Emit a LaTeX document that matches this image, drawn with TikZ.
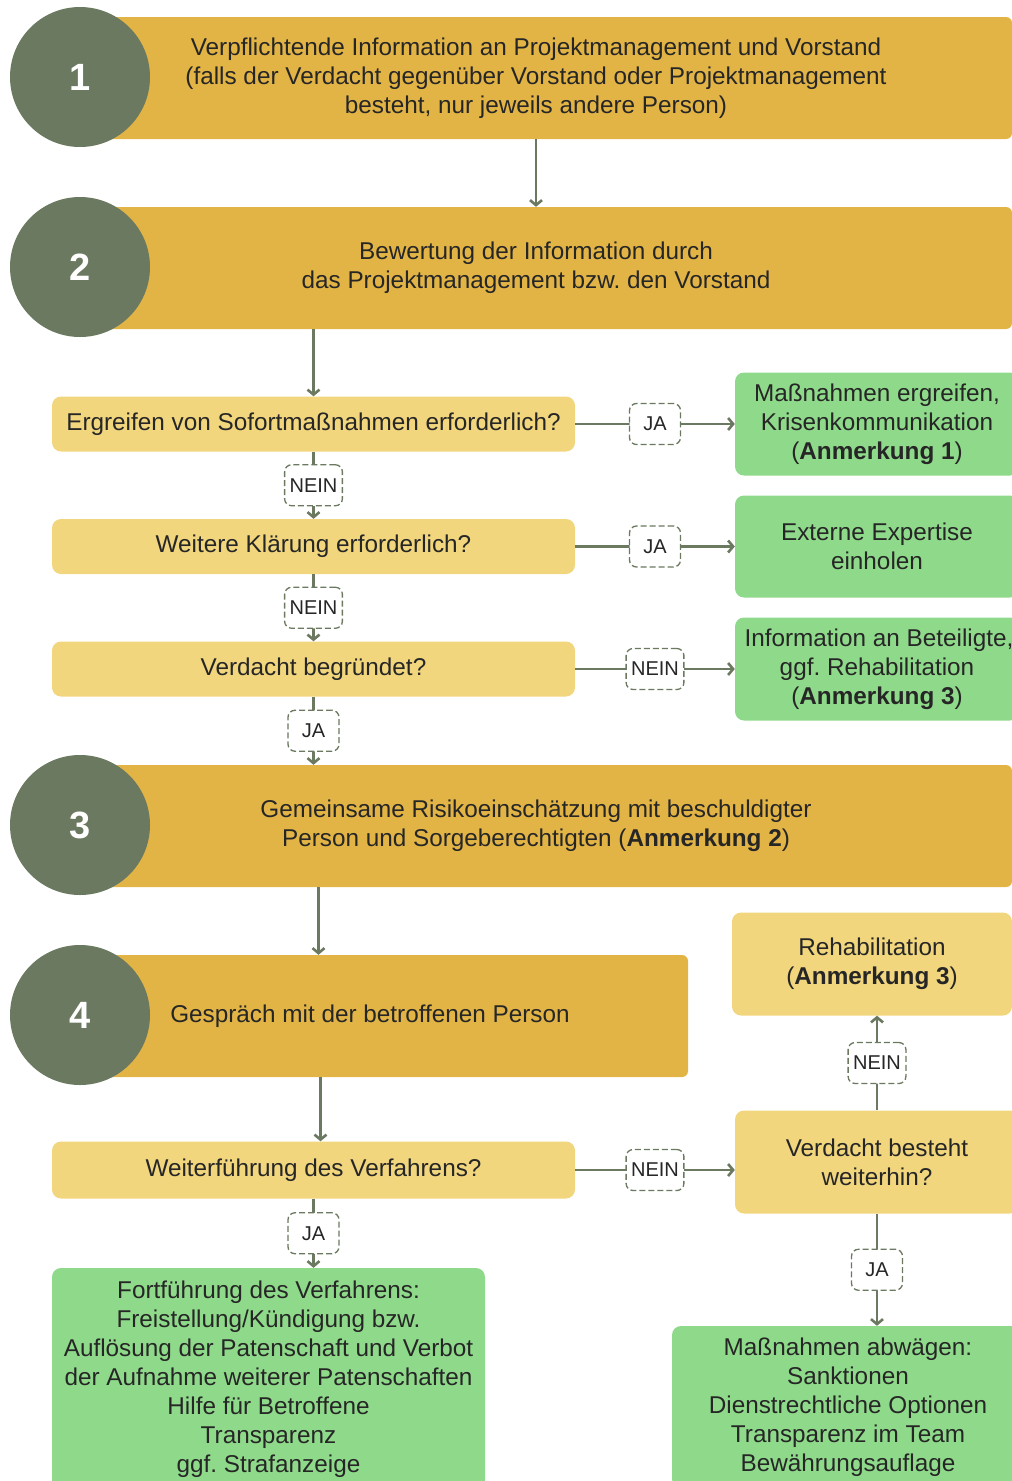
\documentclass[tikz,border=0pt]{standalone}
\usepackage{fontspec}
\setmainfont{Liberation Sans}
\usetikzlibrary{arrows.meta,positioning}
\definecolor{moss}{RGB}{106,121,95}
\definecolor{mustard}{RGB}{226,180,70}
\definecolor{sand}{RGB}{241,214,126}
\definecolor{mint}{RGB}{143,218,138}
\definecolor{ink}{RGB}{38,38,38}
\frenchspacing
\newcommand{\fsmain}{\fontsize{24.3}{29}\selectfont}
\tikzset{
  >={Straight Barb[length=5pt,width=12pt]},
  phase/.style={fill=mustard,rounded corners=6pt,minimum height=122pt,
    minimum width=#1,align=center,font=\fsmain,text=ink,inner sep=0pt},
  phase/.default=952pt,
  num/.style={circle,fill=moss,minimum size=140pt,inner sep=0pt,text=white,
    font=\bfseries\fontsize{38}{40}\selectfont},
  ask/.style={fill=#1,rounded corners=9pt,minimum width=523pt,minimum height=55pt,
    align=center,font=\fsmain,text=ink,inner sep=0pt},
  ask/.default=sand,
  act/.style={fill=mint,rounded corners=9pt,minimum width=284pt,minimum height=103pt,
    align=center,font=\fsmain,text=ink,inner sep=0pt},
  lbl/.style={draw=moss,fill=white,line width=1.3pt,dash pattern=on 6pt off 3pt,
    rounded corners=7pt,minimum height=41pt,minimum width=51pt,inner xsep=5pt,
    font=\fontsize{20}{22}\selectfont,text=ink},
  flow/.style={->,line width=2.6pt,draw=moss},
}

\begin{document}
\begin{tikzpicture}[x=1pt,y=-1pt]
  \useasboundingbox (0,0) rectangle (1012,1481);
  \clip (0,0) rectangle (1012,1481);
  % phase bars
  \node[phase] (bar1) at (536,78) {Verpflichtende Information an Projektmanagement und Vorstand\\
    (falls der Verdacht gegenüber Vorstand oder Projektmanagement\\ besteht, nur jeweils andere Person)};
  \node[phase] (bar2) at (536,268) {Bewertung der Information durch\\ das Projektmanagement bzw. den Vorstand};
  \node[phase] (bar3) at (536,826) {Gemeinsame Risikoeinschätzung mit beschuldigter\\
    Person und Sorgeberechtigten (\textbf{Anmerkung 2})};
  \node[phase=628pt] (bar4) at (374,1016) {\hspace*{-8pt}Gespräch mit der betroffenen Person};
  \foreach \n/\y in {1/77,2/267,3/825,4/1015} \node[num] (num\n) at (80,\y) {\n};
  % questions
  \node[ask] (q1) at (313.5,424) {Ergreifen von Sofortmaßnahmen erforderlich?};
  \node[ask] (q2) at (313.5,546.5) {Weitere Klärung erforderlich?};
  \node[ask] (q3) at (313.5,669) {Verdacht begründet?};
  \node[ask,minimum height=57pt] (q4) at (313.5,1170) {Weiterführung des Verfahrens?};
  \node[ask,minimum width=284pt,minimum height=103pt] (v) at (877,1162) {Verdacht besteht\\ weiterhin?};
  \node[ask,minimum width=280pt,minimum height=103pt] (r) at (872,964) {Rehabilitation\\ (\textbf{Anmerkung 3})};
  % actions
  \node[act] (g1) at (877,424) {Maßnahmen ergreifen,\\ Krisenkommunikation\\ (\textbf{Anmerkung 1})};
  \node[act,minimum height=102pt] (g2) at (877,546.5) {Externe Expertise\\ einholen};
  \node[act] (g3) at (877,669) {\hspace*{4pt}Information an Beteiligte,\\ ggf. Rehabilitation\\ (\textbf{Anmerkung 3})};
  \node[act,minimum width=433pt,minimum height=222pt] (f) at (268.5,1379) {Fortführung des Verfahrens:\\
    Freistellung/Kündigung bzw.\\ Auflösung der Patenschaft und Verbot\\ der Aufnahme weiterer Patenschaften\\
    Hilfe für Betroffene\\ Transparenz\\ ggf. Strafanzeige};
  \node[act,minimum width=352pt,minimum height=162pt] (m) at (848,1407) {Maßnahmen abwägen:\\
    Sanktionen\\ Dienstrechtliche Optionen\\ Transparenz im Team\\ Bewährungsauflage};
  % connectors
  \draw[flow] (bar1.south) -- (bar2.north);
  \draw[flow] (q1.north |- bar2.south) -- (q1.north);
  \draw[flow] (q1) -- node[lbl] {JA} (g1);
  \draw[flow] (q2) -- node[lbl] {JA} (g2);
  \draw[flow] (q3) -- node[lbl] {NEIN} (g3);
  \draw[flow] (q1.south) -- node[lbl] {NEIN} (q2.north);
  \draw[flow] (q2.south) -- node[lbl] {NEIN} (q3.north);
  \draw[flow] (q3.south) -- node[lbl] {JA} (q3.south |- bar3.north);
  \draw[flow] ([xshift=5pt]q3.south |- bar3.south) -- ([xshift=5pt]q3.south |- bar4.north);
  \draw[flow] ([xshift=7pt]q4.north |- bar4.south) -- ([xshift=7pt]q4.north);
  \draw[flow] (q4.east) -- node[lbl] {NEIN} (q4.east -| v.west);
  \draw[flow] (q4.south) -- node[lbl] {JA} (q4.south |- f.north);
  \draw[flow] (v.north) -- node[lbl] {NEIN} (v.north |- r.south);
  \draw[flow] (v.south) -- node[lbl] {JA} (m.north -| v.south);
\end{tikzpicture}
\end{document}
